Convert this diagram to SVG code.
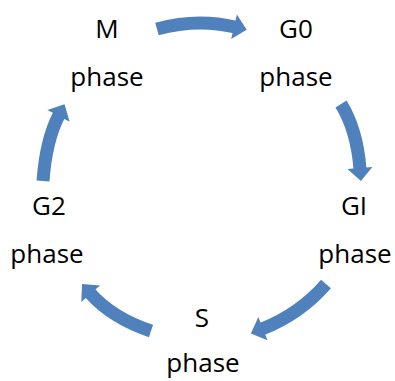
<svg xmlns="http://www.w3.org/2000/svg" width="395" height="381" viewBox="0 0 395 381">
<style>
.lbl{font-family:"Open Sans","Liberation Sans",sans-serif;font-size:26px;fill:#000;text-anchor:middle}
.arc{fill:none;stroke:#4F81BD;stroke-width:13;stroke-linecap:butt}
</style>
<defs>
<marker id="head" markerUnits="userSpaceOnUse" markerWidth="30" markerHeight="30" refX="0" refY="0" orient="auto" overflow="visible">
<path d="M-1,-12.5 L12,0 L-1,12.5 Z" fill="#4F81BD"/>
</marker>
</defs>
<rect width="395" height="381" fill="#fff"/>
<g id="connectors">
<path class="arc" d="M157,29 Q197,18 235,27" marker-end="url(#head)"/>
<path class="arc" d="M341,104 Q357,130 360,169" marker-end="url(#head)"/>
<path class="arc" d="M326,284 Q300,314 262,329" marker-end="url(#head)"/>
<path class="arc" d="M151,331 Q112,318 90,293" marker-end="url(#head)"/>
<path class="arc" d="M43,181 Q46,140 59,115" marker-end="url(#head)"/>
</g>
<g id="m-phase"><text class="lbl" x="107" y="38">M</text><text class="lbl" x="107" y="86">phase</text></g>
<g id="g0-phase"><text class="lbl" x="296" y="38">G0</text><text class="lbl" x="296" y="86">phase</text></g>
<g id="gi-phase"><text class="lbl" x="354" y="215">GI</text><text class="lbl" x="355" y="263">phase</text></g>
<g id="s-phase"><text class="lbl" x="202" y="327">S</text><text class="lbl" x="203" y="372">phase</text></g>
<g id="g2-phase"><text class="lbl" x="49" y="215">G2</text><text class="lbl" x="47" y="263">phase</text></g>
</svg>
